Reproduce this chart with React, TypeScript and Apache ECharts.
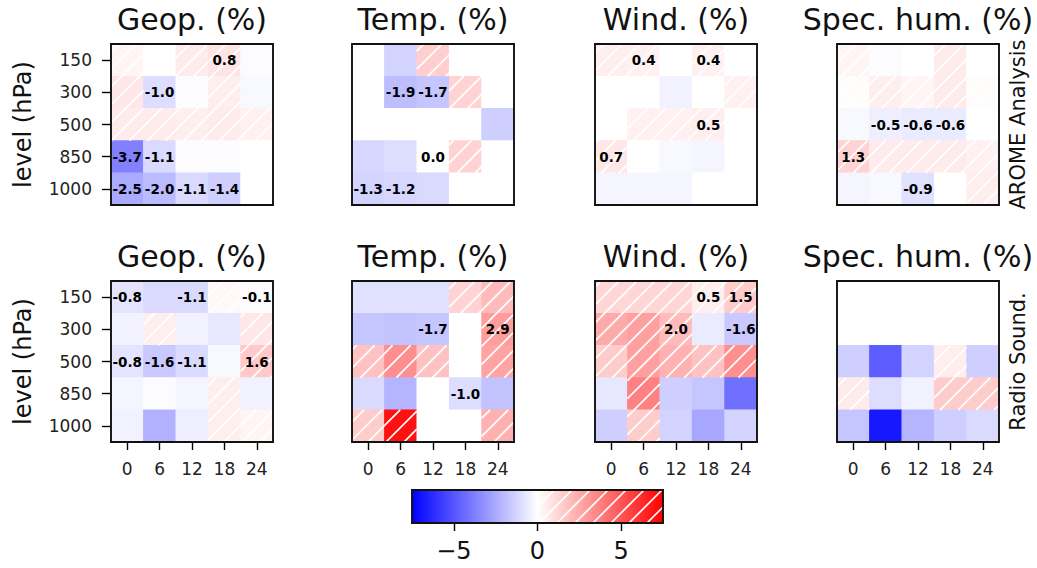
import React, { useEffect, useRef } from "react";
import * as echarts from "echarts";

const leadTimes = ["0", "6", "12", "18", "24"];
const levels = ["150", "300", "500", "850", "1000"];
const variables = ["Geop. (%)", "Temp. (%)", "Wind. (%)", "Spec. hum. (%)"];
const sources = ["AROME Analysis", "Radio Sound."];
const colorbarTicks = [-5, 0, 5];
const vMin = -7.5;
const vMax = 7.5;

// rows: 150, 300, 500, 850, 1000 hPa ; columns: lead time 0, 6, 12, 18, 24
const aromeGeop = [
  [0.3, 0.0, 0.6, 0.8, -0.1],
  [0.7, -1.0, -0.1, 0.5, -0.2],
  [0.6, 0.6, 0.5, 0.6, 0.4],
  [-3.7, -1.1, -0.1, -0.05, 0.0],
  [-2.5, -2.0, -1.1, -1.4, 0.0],
];
const aromeTemp = [
  [0.0, -1.3, 1.4, 0.0, 0.0],
  [0.0, -1.9, -1.7, 1.3, 0.0],
  [0.0, 0.0, 0.0, 0.0, -1.4],
  [-1.2, -1.0, 0.0, 1.3, 0.0],
  [-1.3, -1.2, -1.1, 0.0, 0.0],
];
const aromeWind = [
  [0.5, 0.4, 0.0, 0.4, 0.0],
  [0.0, 0.0, -0.4, 0.0, 0.4],
  [0.0, 0.4, 0.4, 0.5, 0.0],
  [0.7, 0.0, -0.2, -0.3, 0.0],
  [-0.3, -0.3, -0.3, 0.0, 0.0],
];
const aromeSpecHum = [
  [0.3, -0.1, 0.0, 0.6, 0.0],
  [0.1, 0.5, 0.3, 0.6, 0.1],
  [-0.2, -0.5, -0.6, -0.6, 0.0],
  [1.3, 0.6, 0.6, 0.6, 0.4],
  [-0.3, -0.2, -0.9, 0.0, 0.5],
];
const soundGeop = [
  [-0.8, -1.1, -1.1, 0.2, -0.1],
  [-0.4, 0.5, -0.4, -0.7, 0.7],
  [-0.8, -1.6, -1.1, -0.2, 1.6],
  [-0.3, -0.1, -0.3, 0.5, -0.4],
  [-0.4, -2.3, -0.5, 0.5, 0.3],
];
const soundTemp = [
  [-0.9, -0.9, -0.9, 1.3, 2.0],
  [-1.7, -1.8, -1.7, 0.0, 2.9],
  [1.8, 3.3, 1.8, 0.0, 2.7],
  [-1.1, -2.2, 0.0, -1.0, -1.8],
  [1.5, 7.0, 0.0, 0.0, 2.3],
];
const soundWind = [
  [1.2, 1.2, 1.2, 0.5, 1.5],
  [2.5, 2.8, 2.0, -0.6, -1.6],
  [1.5, 2.8, 2.3, 1.8, 3.3],
  [-0.7, 3.7, -1.4, -1.7, -4.2],
  [-1.4, 1.5, -1.3, -2.6, -1.3],
];
const soundSpecHum = [
  [0.0, 0.0, 0.0, 0.0, 0.0],
  [0.0, 0.0, 0.0, 0.0, 0.0],
  [-1.4, -4.8, -1.3, 0.5, -1.4],
  [0.6, -1.0, -0.4, 1.5, 1.5],
  [-1.7, -6.8, -2.2, -1.4, -1.1],
];

// 1 = value printed in the cell
const aromeGeopLabels = [
  [0, 0, 0, 1, 0],
  [0, 1, 0, 0, 0],
  [0, 0, 0, 0, 0],
  [1, 1, 0, 0, 0],
  [1, 1, 1, 1, 0],
];
const aromeTempLabels = [
  [0, 0, 0, 0, 0],
  [0, 1, 1, 0, 0],
  [0, 0, 0, 0, 0],
  [0, 0, 1, 0, 0],
  [1, 1, 0, 0, 0],
];
const aromeWindLabels = [
  [0, 1, 0, 1, 0],
  [0, 0, 0, 0, 0],
  [0, 0, 0, 1, 0],
  [1, 0, 0, 0, 0],
  [0, 0, 0, 0, 0],
];
const aromeSpecHumLabels = [
  [0, 0, 0, 0, 0],
  [0, 0, 0, 0, 0],
  [0, 1, 1, 1, 0],
  [1, 0, 0, 0, 0],
  [0, 0, 1, 0, 0],
];
const soundGeopLabels = [
  [1, 0, 1, 0, 1],
  [0, 0, 0, 0, 0],
  [1, 1, 1, 0, 1],
  [0, 0, 0, 0, 0],
  [0, 0, 0, 0, 0],
];
const soundTempLabels = [
  [0, 0, 0, 0, 0],
  [0, 0, 1, 0, 1],
  [0, 0, 0, 0, 0],
  [0, 0, 0, 1, 0],
  [0, 0, 0, 0, 0],
];
const soundWindLabels = [
  [0, 0, 0, 1, 1],
  [0, 0, 1, 0, 1],
  [0, 0, 0, 0, 0],
  [0, 0, 0, 0, 0],
  [0, 0, 0, 0, 0],
];
const soundSpecHumLabels = [
  [0, 0, 0, 0, 0],
  [0, 0, 0, 0, 0],
  [0, 0, 0, 0, 0],
  [0, 0, 0, 0, 0],
  [0, 0, 0, 0, 0],
];

const panels = [
  [aromeGeop, aromeTemp, aromeWind, aromeSpecHum],
  [soundGeop, soundTemp, soundWind, soundSpecHum],
];
const panelLabels = [
  [aromeGeopLabels, aromeTempLabels, aromeWindLabels, aromeSpecHumLabels],
  [soundGeopLabels, soundTempLabels, soundWindLabels, soundSpecHumLabels],
];

// layout
const FONT = "DejaVu Sans";
const colLefts = [111, 352, 595, 837];
const rowTops = [44, 281];
const PW = 162;
const PH = 161;
const titleY = [19, 256];
const CB = { left: 412, top: 490, width: 251, height: 33 };
const HATCH_SPACING = 18;

function bwr(v: number): string {
  const t = Math.max(0, Math.min(1, (v - vMin) / (vMax - vMin)));
  let r: number, g: number, b: number;
  if (t < 0.5) {
    r = g = 2 * t;
    b = 1;
  } else {
    r = 1;
    g = b = 2 * (1 - t);
  }
  return `rgb(${Math.round(r * 255)},${Math.round(g * 255)},${Math.round(b * 255)})`;
}

function hatchLines(x0: number, y0: number, w: number, h: number) {
  const out: any[] = [];
  const cMin = x0 + y0;
  const cMax = x0 + w + y0 + h;
  for (let k = Math.ceil(cMin / HATCH_SPACING); k * HATCH_SPACING <= cMax; k++) {
    const c = k * HATCH_SPACING;
    const xa = Math.max(x0, c - (y0 + h));
    const xb = Math.min(x0 + w, c - y0);
    if (xb - xa > 0.3) {
      out.push({
        type: "line",
        z2: 5,
        shape: { x1: xa, y1: c - xa, x2: xb, y2: c - xb },
        style: { stroke: "#ffffff", lineWidth: 1.7 },
      });
    }
  }
  return out;
}

export default function App() {
  const ref = useRef<HTMLDivElement>(null);

  useEffect(() => {
    if (!ref.current) return;
    const chart = echarts.init(ref.current, undefined, { renderer: "svg" });

    const grids: any[] = [];
    const xAxes: any[] = [];
    const yAxes: any[] = [];
    const series: any[] = [];
    const graphics: any[] = [];

    for (let r = 0; r < 2; r++) {
      for (let c = 0; c < 4; c++) {
        const idx = r * 4 + c;
        grids.push({ left: colLefts[c], top: rowTops[r], width: PW, height: PH });
        xAxes.push({
          type: "category",
          gridIndex: idx,
          data: leadTimes,
          axisLine: { show: false },
          axisTick: { show: r === 1, alignWithLabel: true, length: 8, lineStyle: { color: "#000", width: 1.4 } },
          axisLabel: { show: r === 1, margin: 18, fontFamily: FONT, fontSize: 17, color: "#222" },
          splitLine: { show: false },
        });
        yAxes.push({
          type: "category",
          gridIndex: idx,
          data: levels,
          inverse: true,
          axisLine: { show: false },
          axisTick: { show: c === 0, alignWithLabel: true, length: 9, lineStyle: { color: "#000", width: 1.4 } },
          axisLabel: { show: c === 0, margin: 19, fontFamily: FONT, fontSize: 17, color: "#222" },
          splitLine: { show: false },
          name: c === 0 ? "level (hPa)" : "",
          nameLocation: "middle",
          nameRotate: 90,
          nameGap: 76,
          nameTextStyle: { fontFamily: FONT, fontSize: 24, color: "#111" },
        });
        const values = panels[r][c];
        const labels = panelLabels[r][c];
        const data: any[] = [];
        for (let i = 0; i < levels.length; i++) {
          for (let j = 0; j < leadTimes.length; j++) {
            data.push([j, i, values[i][j], labels[i][j]]);
          }
        }
        series.push({
          type: "custom",
          xAxisIndex: idx,
          yAxisIndex: idx,
          data,
          renderItem: (params: any, api: any) => {
            const xi = api.value(0);
            const yi = api.value(1);
            const v = api.value(2);
            const lab = api.value(3);
            const ctr = api.coord([xi, yi]);
            const sz = api.size([1, 1]);
            const x0 = ctr[0] - sz[0] / 2;
            const y0 = ctr[1] - sz[1] / 2;
            const children: any[] = [
              {
                type: "rect",
                z2: 1,
                shape: { x: x0 - 0.3, y: y0 - 0.3, width: sz[0] + 0.6, height: sz[1] + 0.6 },
                style: { fill: bwr(v) },
              },
            ];
            if (v > 0) children.push(...hatchLines(x0, y0, sz[0], sz[1]));
            if (lab) {
              children.push({
                type: "text",
                z2: 20,
                x: ctr[0],
                y: ctr[1],
                style: {
                  text: v.toFixed(1),
                  fill: "#000",
                  font: `bold 13.5px "${FONT}"`,
                  align: "center",
                  verticalAlign: "middle",
                },
              });
            }
            return { type: "group", children };
          },
        });
        graphics.push({
          type: "rect",
          z: 100,
          shape: { x: colLefts[c], y: rowTops[r], width: PW, height: PH },
          style: { fill: "none", stroke: "#111", lineWidth: 1.9 },
        });
        graphics.push({
          type: "text",
          z: 100,
          x: colLefts[c] + PW / 2,
          y: titleY[r],
          style: {
            text: variables[c],
            fill: "#111",
            font: `30px "${FONT}"`,
            align: "center",
            verticalAlign: "middle",
          },
        });
      }
      graphics.push({
        type: "text",
        z: 100,
        x: 1018,
        y: rowTops[r] + PH / 2,
        rotation: Math.PI / 2,
        style: {
          text: sources[r],
          fill: "#111",
          font: `21px "${FONT}"`,
          align: "center",
          verticalAlign: "middle",
        },
      });
    }

    // colorbar
    const cbIdx = 8;
    grids.push({ left: CB.left, top: CB.top, width: CB.width, height: CB.height });
    xAxes.push({
      type: "value",
      gridIndex: cbIdx,
      min: vMin,
      max: vMax,
      axisLine: { show: false },
      splitLine: { show: false },
      axisTick: { show: true, customValues: colorbarTicks, length: 8, lineStyle: { color: "#000", width: 1.4 } },
      axisLabel: {
        show: true,
        customValues: colorbarTicks,
        margin: 16,
        fontFamily: FONT,
        fontSize: 24,
        color: "#111",
        formatter: (v: number) => String(v).replace("-", "\u2212"),
      },
    });
    yAxes.push({ type: "value", gridIndex: cbIdx, min: 0, max: 1, show: false });
    series.push({
      type: "custom",
      xAxisIndex: cbIdx,
      yAxisIndex: cbIdx,
      data: [[vMin, vMax]],
      renderItem: (params: any, api: any) => {
        const lo = api.value(0);
        const hi = api.value(1);
        const p0 = api.coord([lo, 1]);
        const p1 = api.coord([hi, 0]);
        const pz = api.coord([0, 0]);
        const children: any[] = [
          {
            type: "rect",
            shape: { x: p0[0], y: p0[1], width: p1[0] - p0[0], height: p1[1] - p0[1] },
            style: {
              fill: {
                type: "linear",
                x: 0,
                y: 0,
                x2: 1,
                y2: 0,
                colorStops: [
                  { offset: 0, color: bwr(lo) },
                  { offset: 0.5, color: bwr((lo + hi) / 2) },
                  { offset: 1, color: bwr(hi) },
                ],
              },
            },
          },
        ];
        children.push(...hatchLines(pz[0], p0[1], p1[0] - pz[0], p1[1] - p0[1]));
        return { type: "group", children };
      },
    });
    graphics.push({
      type: "rect",
      z: 100,
      shape: { x: CB.left, y: CB.top, width: CB.width, height: CB.height },
      style: { fill: "none", stroke: "#111", lineWidth: 1.9 },
    });

    chart.setOption({
      animation: false,
      backgroundColor: "#ffffff",
      grid: grids,
      xAxis: xAxes,
      yAxis: yAxes,
      series,
      graphic: graphics,
    });

    return () => chart.dispose();
  }, []);

  return (
    <div
      ref={ref}
      style={{ position: "fixed", left: 0, top: 0, width: 1037, height: 568, background: "#fff" }}
    />
  );
}
